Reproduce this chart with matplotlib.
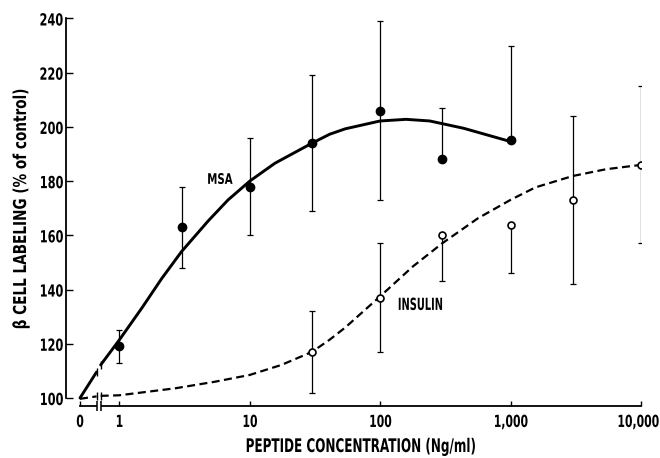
import numpy as np
import matplotlib
matplotlib.use("Agg")
import matplotlib.pyplot as plt
from matplotlib.patheffects import AbstractPathEffect
from matplotlib.transforms import Affine2D, blended_transform_factory
from matplotlib.ticker import NullLocator

# ---------------- data ----------------
msa_conc = [1, 3, 10, 30, 100, 300, 1000]
msa_mean = [119, 163, 178, 194, 206, 188, 195]
msa_err_low = [6, 15, 18, 25, 33, 0, 0]
msa_err_high = [6, 15, 18, 25, 33, 19, 35]

ins_conc = [30, 100, 300, 1000, 3000, 10000]
ins_mean = [117, 137, 160, 164, 173, 186]
ins_err_low = [15, 20, 17, 18, 31, 29]
ins_err_high = [15, 20, 0, 0, 31, 29]

# hand-drawn fitted curves (first point is zero concentration)
msa_curve_conc = [0, 0.67, 0.72, 1, 1.49, 2.11, 3, 4.8, 6.8, 10, 15.6, 30,
                  41, 54, 100, 158, 240, 437, 1000]
msa_curve_val = [100, 109.6, 112.2, 121.4, 133.2, 144.0, 154, 165.3, 173, 180,
                 186.6, 194, 197.3, 199.3, 202.2, 202.8, 202.2, 199.5, 194.6]

ins_curve_conc = [0, 0.67, 0.72, 1, 2.7, 5.4, 10, 17.5, 30, 41, 54, 100, 178,
                  300, 562, 1000, 1550, 3000, 5400, 10000]
ins_curve_val = [99.7, 100.6, 100.8, 101, 103.6, 106, 108.5, 112.2, 117, 121.5,
                 126, 137.5, 148.5, 157.1, 166.3, 173.1, 177.7, 181.9, 184.4, 186]

x_tick_values = [0, 1, 10, 100, 1000, 10000]
x_tick_labels = ["0", "1", "10", "100", "1,000", "10,000"]
y_tick_values = [100, 120, 140, 160, 180, 200, 220, 240]

# ---------------- layout constants ----------------
ZERO_POS = 0.5          # where "0" sits on the log axis
BREAK = (0.67, 0.72)    # axis break between 0 and 1


def pos(c):
    c = np.asarray(c, dtype=float)
    return np.where(c == 0, ZERO_POS, c)


class Squeeze(AbstractPathEffect):
    """Horizontally condense glyphs (the original uses a condensed bold face)."""

    def __init__(self, sx, anchor="center", dx=0.0):
        super().__init__()
        self.sx = sx
        self.anchor = anchor
        self.dx = dx  # extra shift along the text direction, in points

    def draw_path(self, renderer, gc, tpath, affine, rgbFace=None):
        ext = tpath.get_extents()
        if self.anchor == "left":
            cx = ext.x0
        elif self.anchor == "right":
            cx = ext.x1
        else:
            cx = 0.5 * (ext.x0 + ext.x1)
        t = Affine2D().translate(-cx, 0).scale(self.sx, 1).translate(cx, 0)
        tr = t + affine
        if self.dx:
            tr = tr + Affine2D().translate(renderer.points_to_pixels(self.dx), 0)
        renderer.draw_path(gc, tpath, tr, rgbFace)


plt.rcParams["font.family"] = ["DejaVu Sans"]
plt.rcParams["font.weight"] = "bold"

fig = plt.figure(figsize=(6.6, 4.58), dpi=100)
fig.patch.set_facecolor("white")
ax = fig.add_axes([65.5 / 660, 1 - 406 / 458, 575.5 / 660, 387.5 / 458])
ax.set_xscale("log")
ax.set_xlim(0.387, 10000)
ax.set_ylim(97.05, 240)

for s in ("top", "right"):
    ax.spines[s].set_visible(False)
ax.spines["left"].set_bounds(100, 240)
ax.spines["bottom"].set_bounds(ZERO_POS, 10000)
for s in ("left", "bottom"):
    ax.spines[s].set_linewidth(1.3)

# ticks
ax.set_yticks(y_tick_values)
ax.set_yticklabels([str(v) for v in y_tick_values])
ax.set_xticks(pos(x_tick_values))
ax.set_xticklabels(x_tick_labels)
ax.xaxis.set_minor_locator(NullLocator())
ax.tick_params(axis="y", direction="in", length=5, width=1.0, pad=1.5,
               labelsize=12)
ax.tick_params(axis="x", direction="in", length=3.5, width=1.0, pad=5,
               labelsize=12)
for lab in ax.get_yticklabels():
    lab.set_path_effects([Squeeze(0.68, "right")])
xlabs = ax.get_xticklabels()
for lab in xlabs[:-1]:
    lab.set_path_effects([Squeeze(0.65, "center")])
# last label sits against the right edge, as in the original
xlabs[-1].set_horizontalalignment("right")
xlabs[-1].set_path_effects([Squeeze(0.65, "right", dx=13.0)])

# axis break
bt = blended_transform_factory(ax.transData, ax.transAxes)
ax.plot(list(BREAK), [0, 0], transform=bt, color="white", lw=3,
        solid_capstyle="butt", clip_on=False, zorder=5)
ax.plot(list(BREAK), [0, 0], transform=bt, ls="none", marker="|", ms=7,
        mew=1.1, color="k", clip_on=False, zorder=6)


# curves, split at the break
def draw_curve(cx, cy, **kw):
    cx = np.asarray(cx, dtype=float)
    cy = np.asarray(cy, dtype=float)
    left = cx <= BREAK[0]
    right = cx >= BREAK[1]
    ax.plot(pos(cx[left]), cy[left], **kw)
    ax.plot(pos(cx[right]), cy[right], **kw)
    ends_x = [cx[left][-1], cx[right][0]]
    ends_y = [cy[left][-1], cy[right][0]]
    ax.plot(ends_x, ends_y, ls="none", marker="|", ms=6, mew=1.0,
            color="k", zorder=3)


draw_curve(msa_curve_conc, msa_curve_val, color="k", lw=2.1, zorder=3,
           solid_capstyle="round", solid_joinstyle="round")
draw_curve(ins_curve_conc, ins_curve_val, color="k", lw=1.6, zorder=3,
           ls=(0, (3.6, 2.0)))

# error bars
ax.errorbar(msa_conc, msa_mean, yerr=[msa_err_low, msa_err_high], fmt="none",
            ecolor="k", elinewidth=0.9, capsize=2.5, capthick=0.9, zorder=2)
ax.errorbar(ins_conc, ins_mean, yerr=[ins_err_low, ins_err_high], fmt="none",
            ecolor="k", elinewidth=0.9, capsize=2.5, capthick=0.9, zorder=2)

# markers
ax.plot(msa_conc, msa_mean, ls="none", marker="o", ms=6, color="k",
        zorder=4)
ax.plot(ins_conc, ins_mean, ls="none", marker="o", ms=5, mfc="white",
        mec="k", mew=1.2, zorder=4)

# series labels
t1 = ax.text(5.9, 179, "MSA", fontsize=10.5, fontweight="bold",
             ha="center", va="baseline")
t1.set_path_effects([Squeeze(0.7, "center")])
t2 = ax.text(203, 132.5, "INSULIN", fontsize=12, fontweight="bold",
             ha="center", va="baseline")
t2.set_path_effects([Squeeze(0.59, "center")])

# axis labels
ax.set_xlabel("PEPTIDE CONCENTRATION (Ng/ml)", fontsize=13.5,
              fontweight="bold", va="baseline")
ax.xaxis.set_label_coords(0.5135, -0.1187)
ax.xaxis.label.set_path_effects([Squeeze(0.64, "center")])

ax.set_ylabel("β CELL LABELING (% of control)", fontsize=12.8,
              fontweight="bold", va="center")
ax.yaxis.set_label_coords(-0.0773, 0.507)
ax.yaxis.label.set_path_effects([Squeeze(0.765, "center")])

fig.savefig("out.png", dpi=100, facecolor="white")
